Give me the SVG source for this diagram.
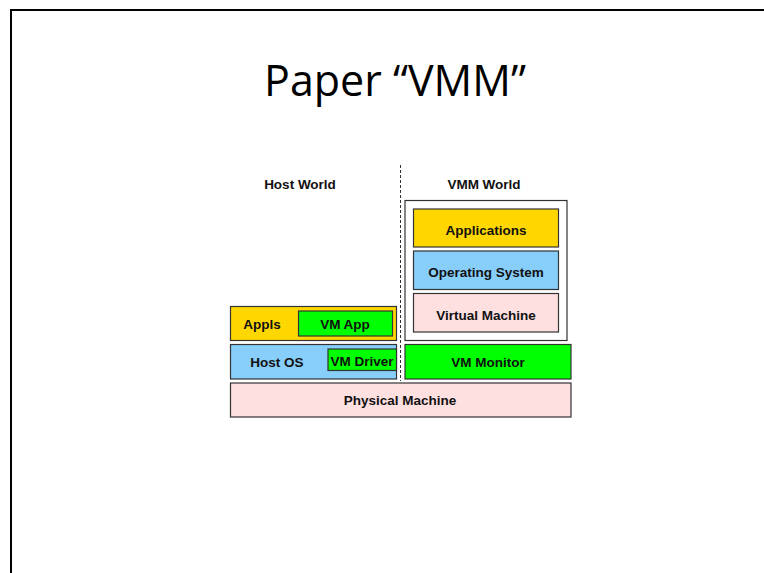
<svg xmlns="http://www.w3.org/2000/svg" width="764" height="573" viewBox="0 0 764 573">
<style>
.lbl{font-family:"Liberation Sans",Arial,sans-serif;font-weight:bold;font-size:13.5px;fill:#111;text-anchor:middle;dominant-baseline:central}
.box{stroke:#333;stroke-width:1.2}
.y{fill:#FFD700}.b{fill:#87CEFA}.p{fill:#FFE0E0}.g{fill:#00FF00}.w{fill:#fff}
</style>
<rect width="764" height="573" fill="#fff"/>
<path d="M11,573 V10 H764" fill="none" stroke="#000" stroke-width="2"/>
<text x="395" y="96" font-family="'Open Sans','Liberation Sans',sans-serif" font-size="43" text-anchor="middle" fill="#000">Paper “VMM”</text>
<g id="connectors">
<line x1="400.5" y1="165" x2="400.5" y2="381" stroke="#333" stroke-width="1" stroke-dasharray="3,2"/>
</g>
<g id="host-world"><text class="lbl" x="300" y="184">Host World</text></g>
<g id="vmm-world"><text class="lbl" x="484" y="184">VMM World</text></g>
<g id="vmm-container"><rect class="box w" x="405" y="200.5" width="162" height="140"/></g>
<g id="applications"><rect class="box y" x="413.5" y="209" width="145" height="38"/><text class="lbl" x="486" y="230">Applications</text></g>
<g id="operating-system"><rect class="box b" x="413.5" y="251" width="145" height="38.5"/><text class="lbl" x="486" y="272">Operating System</text></g>
<g id="virtual-machine"><rect class="box p" x="413.5" y="293.5" width="145" height="38.5"/><text class="lbl" x="486" y="315">Virtual Machine</text></g>
<g id="appls"><rect class="box y" x="230.5" y="306.5" width="166" height="34"/><text class="lbl" x="262" y="324">Appls</text></g>
<g id="vm-app"><rect class="box g" x="298.5" y="311" width="94" height="25"/><text class="lbl" x="345" y="324">VM App</text></g>
<g id="host-os"><rect class="box b" x="230.5" y="344.5" width="166" height="34.5"/><text class="lbl" x="277" y="362">Host OS</text></g>
<g id="vm-driver"><rect class="box g" x="328" y="349" width="68.5" height="21.5"/><text class="lbl" x="362" y="361">VM Driver</text></g>
<g id="vm-monitor"><rect class="box g" x="405" y="344.5" width="166" height="34.5"/><text class="lbl" x="488" y="362">VM Monitor</text></g>
<g id="physical-machine"><rect class="box p" x="230.5" y="383" width="340.5" height="34"/><text class="lbl" x="400" y="400">Physical Machine</text></g>
</svg>
